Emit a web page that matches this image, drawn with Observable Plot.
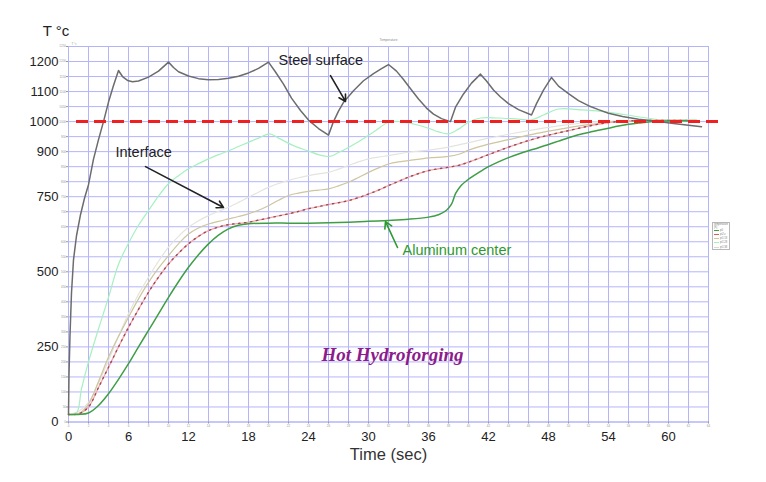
<!DOCTYPE html>
<html>
<head>
<meta charset="utf-8">
<script src="https://cdn.jsdelivr.net/npm/d3@7"></script>
<script src="https://cdn.jsdelivr.net/npm/@observablehq/plot@0.6"></script>
<style>
  html, body { margin: 0; padding: 0; background: #fff; }
  #wrap { position: relative; width: 766px; height: 482px; }
  #legend {
    position: absolute; left: 712px; top: 222px; width: 18px; height: 28px;
    border: 1px solid #b8b8b8; background: #fff; font: 2.6px "Liberation Sans", Arial, sans-serif;
    color: #777; box-sizing: border-box; padding: 1px;
  }
  #legend div { display: flex; align-items: center; height: 4.2px; gap: 1px; }
  #legend span.sw { display: inline-block; width: 5px; height: 1px; }
</style>
</head>
<body>
<div id="wrap"></div>
<script>
// Temperature (°C) against time (s) during hot hydroforging.
// Each series is a list of [time, temperature] readings.
const steelSurface = [
  [0,25],[0.05,160],[0.15,290],[0.3,430],[0.5,540],[0.8,620],[1.2,690],[1.6,745],[2,790],
  [2.5,875],[3,940],[3.5,1000],[4,1065],[4.5,1120],[5,1170],[5.4,1150],[5.9,1137],[6.4,1133],
  [7,1135],[8,1148],[9,1168],[10,1198],[10.5,1180],[11,1166],[12,1152],[13,1143],[14,1139],
  [15,1140],[16,1144],[17,1151],[18,1162],[19,1177],[20,1198],[20.7,1165],[21.5,1125],
  [22.3,1078],[23.2,1037],[24,1005],[25,977],[26,955],[26.5,1000],[27,1035],[27.5,1064],
  [28.5,1103],[29.5,1136],[30.5,1160],[31.3,1176],[32,1190],[32.8,1168],[33.5,1140],
  [34.3,1105],[35,1075],[35.8,1045],[36.5,1025],[37.3,1010],[38.2,1000],[38.7,1048],
  [39.5,1092],[40.3,1128],[41.2,1158],[41.8,1135],[42.5,1105],[43.2,1082],[44,1060],
  [45,1040],[46.3,1022],[46.8,1060],[47.5,1105],[48.3,1147],[49,1118],[50,1093],[51,1070],
  [52,1053],[53,1040],[54,1028],[55.4,1017],[57,1008],[58.8,1001],[60.5,994],[62,988],[63.3,983]
];
const steelNearSurface = [
  [0,25],[0.8,30],[1.3,110],[2,200],[3,310],[4,415],[5,525],[6,595],[7,655],[8,704],[9,752],
  [10,793],[11,820],[12,843],[13,860],[14,876],[15,890],[16,903],[17,917],[18,931],[19,945],
  [20.1,959],[21,945],[22.5,920],[24,902],[25,890],[26.1,884],[27,897],[28,914],[29.2,937],
  [30.5,965],[32,998],[33.2,1000],[34.5,992],[36,978],[37,966],[38,959],[39,975],[40,998],
  [41.2,1012],[43,1012],[45,1008],[46.3,1006],[47.5,1022],[49,1042],[51.4,1039],[54.1,1031],
  [56.8,1017],[59.2,1006],[61,1005],[62.8,1006]
];
const interfacePoint = [
  [0,25],[1,35],[2,65],[3,130],[4,205],[5,285],[6,360],[7,425],[8,482],[9,535],[10,582],
  [11,618],[12,648],[13,670],[14,687],[15,701],[16,715],[17,731],[18,748],[19,765],[20,781],
  [21,794],[22,804],[23,813],[24,820],[25,826],[26,831],[27,842],[28,854],[29,866],[30,876],
  [31,882],[32,887],[34,898],[36,905],[38,915],[40,930],[42,945],[44,958],[46,970],[48,981],
  [50,990],[52,997],[54,1001],[56,1004],[58,1005],[60,1005],[62.8,1005]
];
const aluminumOuter = [
  [0,25],[1,28],[2,60],[3,135],[4,216],[5,285],[6,349],[7,410],[8,465],[9,512],[10,554],
  [11,593],[12,626],[13,646],[14,659],[15,668],[16,676],[17,684],[18,693],[19,705],[20,720],
  [21,738],[22,754],[23,762],[24,768],[25,772],[26,776],[27,786],[28,798],[29,814],[30,831],
  [31,846],[32,859],[33,866],[34,870],[36,879],[38,884],[39.2,893],[40,905],[42,925],[44,940],
  [46,955],[48,968],[50,980],[52,990],[54,997],[56,1001],[58,1003],[60,1004],[62.8,1004]
];
const aluminumMid = [
  [0,25],[1,27],[2,50],[3,115],[4,182],[5,250],[6,315],[7,375],[8,432],[9,482],[10,526],
  [11,562],[12,593],[13,618],[14,637],[15,649],[16,657],[17,661],[18,665],[19,672],[20,679],
  [21,686],[22,693],[23,701],[24,710],[25,717],[26,724],[27,730],[28,737],[29,747],[30,759],
  [31,772],[32,787],[33,801],[34,815],[35,827],[36,837],[37,843],[38,848],[39.2,856],[40,865],
  [42,890],[44,915],[46,937],[48,955],[50,970],[52,985],[54,997],[56,1002],[58,1004],[60,1004],
  [62.8,1003]
];
const aluminumCenter = [
  [0,25],[1,25],[2,30],[3,55],[4,94],[5,142],[6,194],[7,250],[8,305],[9,360],[10,415],
  [11,467],[12,515],[13,557],[14,593],[15,622],[16,643],[17,655],[18,660],[20,662],[22,662],
  [24,662],[26,663],[28,665],[30,668],[32,671],[34,675],[36,682],[37,690],[37.8,705],
  [38.3,725],[38.7,760],[39.2,785],[40,808],[41,830],[42,850],[43,866],[44,880],[45,892],
  [46,903],[47,913],[48,924],[49,935],[50,946],[51,956],[52,964],[53,971],[54,978],[55,985],
  [56,991],[57,995],[58,999],[59,1001],[60,1002],[61,1003],[62.8,1003]
];

// Axis ticks
const timeTicks = [0, 6, 12, 18, 24, 30, 36, 42, 48, 54, 60];
const tempTicks = [0, 250, 500, 750, 900, 1000, 1100, 1200];
const timeFine = d3.range(0, 65, 2);
const tempFine = d3.range(0, 1251, 50);

// Target forging temperature
const targetTemp = [1000];
const targetSpan = [0.8, 65.4];

// Callouts: [text, time, temperature, colour]
const callouts = [
  ["Steel surface", 21.0, 1203, "#222"],
  ["Interface", 4.7, 897, "#222"],
  ["Aluminum center", 33.4, 571, "#2e9a2e"]
];
// Pointers: [from time, from temp, to time, to temp, colour]
const pointers = [
  [26.2, 1153, 27.7, 1067, "#222"],
  [7.7, 850, 15.5, 714, "#222"],
  [32.9, 581, 31.7, 667, "#2e9a2e"]
];
const stamp = [["Hot Hydroforging", 32.4, 225]];

const gridColor = "#b4b4fb";
const font = "'Liberation Sans', Arial, sans-serif";
const plain = d => String(d);

const chart = Plot.plot({
  width: 766,
  height: 482,
  marginLeft: 68,
  marginRight: 58,
  marginTop: 46,
  marginBottom: 60.5,
  style: { fontFamily: font, background: "#fff", overflow: "visible" },
  x: { domain: [0, 64] },
  y: { domain: [0, 1250] },
  marks: [
    Plot.gridX(timeFine, { stroke: gridColor, strokeOpacity: 1, strokeWidth: 1 }),
    Plot.gridY(tempFine, { stroke: gridColor, strokeOpacity: 1, strokeWidth: 1 }),
    Plot.frame({ stroke: gridColor, strokeWidth: 1 }),
    // fine internal scale
    Plot.axisX(timeFine, { tickSize: 2, tickPadding: 0.5, fontSize: 3, color: "#999", label: null, tickFormat: plain }),
    Plot.axisY(tempFine, { tickSize: 2, tickPadding: 0.5, fontSize: 3, color: "#999", label: null, tickFormat: plain }),
    // main scale
    Plot.axisX(timeTicks, { tickSize: 0, tickPadding: 10, fontSize: 13, color: "#222", label: null, tickFormat: plain }),
    Plot.axisY(tempTicks, { tickSize: 0, tickPadding: 10, fontSize: 13, color: "#222", label: null, tickFormat: plain }),
    Plot.text(["Time (sec)"], { frameAnchor: "bottom", dy: 37.5, fontSize: 16.5, fill: "#333" }),
    Plot.text(["T °c"], { frameAnchor: "top-left", dx: -12.5, dy: -21, fontSize: 15, fill: "#222", textAnchor: "middle" }),
    Plot.text(["T °c"], { frameAnchor: "top-left", dx: 3, dy: -4, fontSize: 3, fill: "#999", textAnchor: "start" }),
    Plot.text(["Temperature"], { frameAnchor: "top", dy: -8, fontSize: 3.2, fill: "#888" }),

    // temperature curves
    Plot.line(interfacePoint, { x: d => d[0], y: d => d[1], stroke: "#e4e4de", strokeWidth: 1.2, curve: "catmull-rom" }),
    Plot.line(aluminumOuter, { x: d => d[0], y: d => d[1], stroke: "#cdc69e", strokeWidth: 1.2, curve: "catmull-rom" }),
    Plot.line(steelNearSurface, { x: d => d[0], y: d => d[1], stroke: "#a6f0bf", strokeWidth: 1.2, curve: "catmull-rom" }),
    Plot.line(aluminumMid, { x: d => d[0], y: d => d[1], stroke: "#f4a6a6", strokeWidth: 1.3, curve: "catmull-rom" }),
    Plot.line(aluminumMid, { x: d => d[0], y: d => d[1], stroke: "#9a4a5a", strokeWidth: 1.4, strokeDasharray: "1.4,4.6", curve: "catmull-rom" }),
    Plot.line(aluminumCenter, { x: d => d[0], y: d => d[1], stroke: "#3f9e45", strokeWidth: 1.5, curve: "catmull-rom" }),
    Plot.line(steelSurface, { x: d => d[0], y: d => d[1], stroke: "#6c6c6c", strokeWidth: 1.5, curve: "linear" }),

    // target temperature
    Plot.ruleY(targetTemp, { x1: targetSpan[0], x2: targetSpan[1], stroke: "#f02020", strokeWidth: 3, strokeDasharray: "12,6", clip: false }),

    // callouts
    Plot.arrow(pointers, { x1: d => d[0], y1: d => d[1], x2: d => d[2], y2: d => d[3], stroke: d => d[4], strokeWidth: 1.6, headLength: 7, bend: 0 }),
    Plot.text(callouts, { x: d => d[1], y: d => d[2], text: d => d[0], fill: d => d[3], fontSize: 14.5, textAnchor: "start" }),
    Plot.text(stamp, { x: d => d[1], y: d => d[2], text: d => d[0], fill: "#8c1c8c", fontSize: 19, fontStyle: "italic", fontWeight: "bold", fontFamily: "'Liberation Serif', serif" })
  ]
});
chart.style.color = "#222";
document.getElementById("wrap").appendChild(chart);

// compact series key on the right of the grid
const keyItems = [
  ["temperature [K]", null],
  ["p0", "#3f9e45"],
  ["pt2 z", "#d06060"],
  ["pt1 18", "#cdc69e"],
  ["pt1 28", "#a6f0bf"],
  ["pt1 38", "#d8d8d8"]
];
const legend = document.createElement("div");
legend.id = "legend";
for (const [name, color] of keyItems) {
  const row = document.createElement("div");
  if (color) {
    const sw = document.createElement("span");
    sw.className = "sw";
    sw.style.background = color;
    row.appendChild(sw);
  }
  row.appendChild(document.createTextNode(name));
  legend.appendChild(row);
}
document.getElementById("wrap").appendChild(legend);
</script>
</body>
</html>
